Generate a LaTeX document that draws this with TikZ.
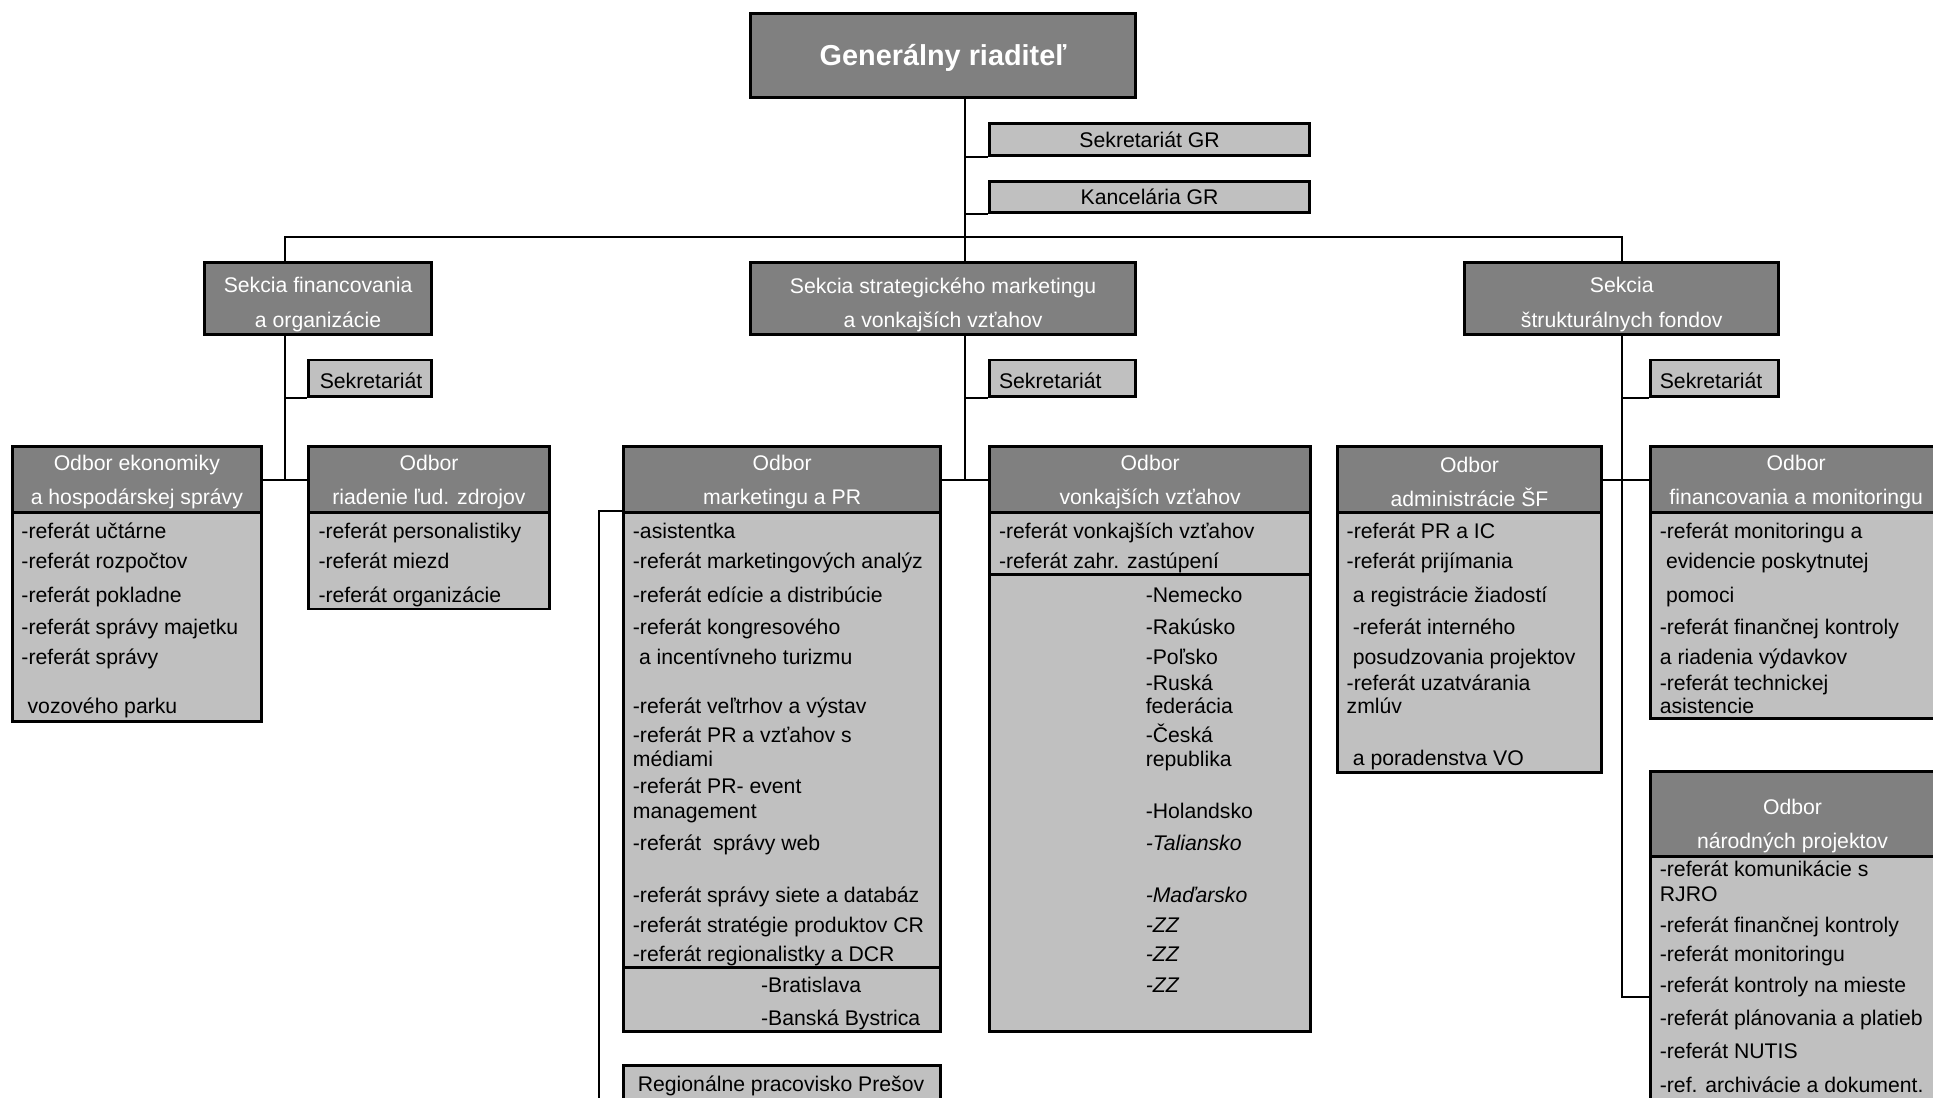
\documentclass[tikz,border=0pt]{standalone}
\usepackage{fontspec}
\setmainfont{Liberation Sans}
\usetikzlibrary{fit,positioning}

\definecolor{hdrgray}{RGB}{128,128,128}
\definecolor{bodygray}{RGB}{192,192,192}
\newcommand{\bodyfont}{\fontsize{8.6}{10}\selectfont}
\newcommand{\headfont}{\fontsize{8.6}{13.8}\selectfont}

\tikzset{
  head/.style={draw, line width=1.2pt, fill=hdrgray, inner sep=0pt},
  body/.style={draw, line width=1.2pt, fill=bodygray, inner sep=0pt},
  htext/.style={inner sep=0pt, text=white, align=center, font=\headfont, yshift=-1pt},
  btext/.style={inner sep=0pt, font=\bodyfont},
  item/.style={anchor=base west, inner sep=0pt, yshift=-3pt, font=\bodyfont},
  link/.style={line width=0.8pt},
}

\begin{document}
\begin{tikzpicture}[x=0.5pt,y=-0.5pt]
  \useasboundingbox (0,0) rectangle (1568,890);
  \clip (0,0) rectangle (1568,890);

  % trunk positions
  \coordinate (tl) at (231,192);
  \coordinate (tm) at (783,192);
  \coordinate (tr) at (1316,192);
  \coordinate (pl) at (486,0);

  % director and his staff
  \node[head, fit={(609,11) (921,79)},
    label={[htext, font=\bfseries\fontsize{11.7}{14}\selectfont]center:Generálny riaditeľ}] (gr) {};
  \node[body, fit={(803,100) (1062,126)}, label={[btext]center:Sekretariát GR}] (sgr) {};
  \node[body, fit={(803,147) (1062,172)}, label={[btext]center:Kancelária GR}] (kgr) {};

  % sections
  \node[head, fit={(166,213) (350,271)},
    label={[htext, yshift=-1.5pt]center:{Sekcia financovania\\a organizácie}}] (sfo) {};
  \node[head, fit={(609,213) (921,271)},
    label={[htext, yshift=-1.5pt]center:{Sekcia strategického marketingu\\a vonkajších vzťahov}}] (ssm) {};
  \node[head, fit={(1188,213) (1443,271)},
    label={[htext, yshift=-1.5pt]center:{Sekcia\\štrukturálnych fondov}}] (ssf) {};

  % secretariats
  \node[body, fit={(250,292) (350,322)}] (sek1) {};
  \node[body, fit={(803,292) (921,322)}] (sek2) {};
  \node[body, fit={(1339,292) (1443,322)}] (sek3) {};
  \node[item] (sek1t) at (259,309) {Sekretariát};
  \node[item] (sek2t) at (810,309) {Sekretariát};
  \node[item] (sek3t) at (1346,309) {Sekretariát};

  % departments
  \node[head, fit={(10,362) (212,416)}, label={[htext]center:{Odbor ekonomiky\\a hospodárskej správy}}] (eko) {};
  \node[body, fit={(10,416) (212,585)}] (ekoB) {};
  \node[head, fit={(250,362) (446,416)}, label={[htext]center:{Odbor\\riadenie ľud. zdrojov}}] (lud) {};
  \node[body, fit={(250,416) (446,494)}] (ludB) {};
  \node[head, fit={(506,362) (763,416)}, label={[htext]center:{Odbor\\marketingu a PR}}] (mkt) {};
  \node[body, fit={(506,416) (763,785)}] (mktB) {};
  \node[body, fit={(506,785) (763,837)}] (mktR) {};
  \node[body, fit={(506,864) (763,920)}] (pre) {};
  \node[head, fit={(803,362) (1063,416)}, label={[htext]center:{Odbor\\vonkajších vzťahov}}] (vzt) {};
  \node[body, fit={(803,416) (1063,466)}] (vztB) {};
  \node[body, fit={(803,466) (1063,837)}] (vztZ) {};
  \node[head, fit={(1085,362) (1299,416)}, label={[htext]center:{Odbor\\administrácie ŠF}}] (adm) {};
  \node[body, fit={(1085,416) (1299,627)}] (admB) {};
  \node[head, fit={(1339,362) (1575,416)}, label={[htext]center:{Odbor\\financovania a monitoringu}}] (fin) {};
  \node[body, fit={(1339,416) (1575,583)}] (finB) {};
  \node[head, fit={(1339,626) (1575,695)}] (np) {};
  \node[htext, yshift=1pt] (npT) at (1454,670) {Odbor\\národných projektov};
  \node[body, fit={(1339,695) (1575,923)}] (npB) {};

  % lines
  \draw[link] (gr.south -| tm) -- (ssm.north -| tm);
  \draw[link] (sgr.south west -| tm) -- (sgr.south west);
  \draw[link] (kgr.south west -| tm) -- (kgr.south west);
  \draw[link] (sfo.north -| tl) |- (tr) -- (ssf.north -| tr);

  \draw[link] (sfo.south -| tl) -- (eko.east -| tl);
  \draw[link] (sek1.south west -| tl) -- (sek1.south west);
  \draw[link] (eko.east) -- (lud.west);

  \draw[link] (ssm.south -| tm) -- (mkt.east -| tm);
  \draw[link] (sek2.south west -| tm) -- (sek2.south west);
  \draw[link] (mkt.east) -- (vzt.west);
  \draw[link] (mktB.north west) -| (pre.west -| pl) -- (pre.west);

  \draw[link] (ssf.south -| tr) -- (npB.west -| tr) -- (npB.west);
  \draw[link] (sek3.south west -| tr) -- (sek3.south west);
  \draw[link] (adm.east) -- (fin.west);

  % texts of the units
  \node[item] (pre1) at (517,879) {Regionálne pracovisko Prešov};
  \foreach \x/\y/\t [count=\i] in {17/431/-referát učtárne, 17/455/-referát rozpočtov,
      17/483/-referát pokladne, 17/509/-referát správy majetku, 17/533/-referát správy,
      22/573/vozového parku}
    \node[item] (eko\i) at (\x,\y) {\t};
  \foreach \x/\y/\t [count=\i] in {258/431/-referát personalistiky, 258/455/-referát miezd,
      258/483/-referát organizácie}
    \node[item] (lud\i) at (\x,\y) {\t};
  \foreach \x/\y/\t [count=\i] in {513/431/-asistentka, 513/455/-referát marketingových analýz,
      513/483/-referát edície a distribúcie, 513/509/-referát kongresového,
      518/533/a incentívneho turizmu, 513/573/-referát veľtrhov a výstav,
      513/596/-referát PR a vzťahov s, 513/616/médiami, 513/638/-referát PR- event,
      513/658/management, 513/684/-referát~ správy web, 513/726/-referát správy siete a databáz,
      513/750/-referát stratégie produktov CR, 513/774/-referát regionalistky a DCR,
      617/799/-Bratislava, 617/826/-Banská Bystrica}
    \node[item] (mkt\i) at (\x,\y) {\t};
  \foreach \x/\y/\t [count=\i] in {810/431/-referát vonkajších vzťahov, 810/455/-referát zahr. zastúpení,
      929/483/-Nemecko, 929/509/-Rakúsko, 929/533/-Poľsko, 929/554/-Ruská, 929/573/federácia,
      929/596/-Česká, 929/616/republika, 929/658/-Holandsko, 929/684/\textit{-Taliansko},
      929/726/\textit{-Maďarsko}, 929/750/\textit{-ZZ}, 929/774/\textit{-ZZ}, 929/799/\textit{-ZZ}}
    \node[item] (vzt\i) at (\x,\y) {\t};
  \foreach \x/\y/\t [count=\i] in {1092/431/-referát PR a IC, 1092/455/-referát prijímania,
      1097/483/a registrácie žiadostí, 1097/509/-referát interného,
      1097/533/posudzovania projektov, 1092/554/-referát uzatvárania, 1092/573/zmlúv,
      1097/615/a poradenstva VO}
    \node[item] (adm\i) at (\x,\y) {\t};
  \foreach \x/\y/\t [count=\i] in {1346/431/-referát monitoringu a, 1351/455/evidencie poskytnutej,
      1351/483/pomoci, 1346/509/-referát finančnej kontroly, 1346/533/a riadenia výdavkov,
      1346/554/-referát technickej, 1346/573/asistencie}
    \node[item] (fin\i) at (\x,\y) {\t};
  \foreach \x/\y/\t [count=\i] in {1346/705/-referát komunikácie s, 1346/725/RJRO,
      1346/750/-referát finančnej kontroly, 1346/774/-referát monitoringu,
      1346/799/-referát kontroly na mieste, 1346/826/-referát plánovania a platieb,
      1346/853/-referát NUTIS, 1346/880/-ref. archivácie a dokument.}
    \node[item] (np\i) at (\x,\y) {\t};
\end{tikzpicture}
\end{document}
